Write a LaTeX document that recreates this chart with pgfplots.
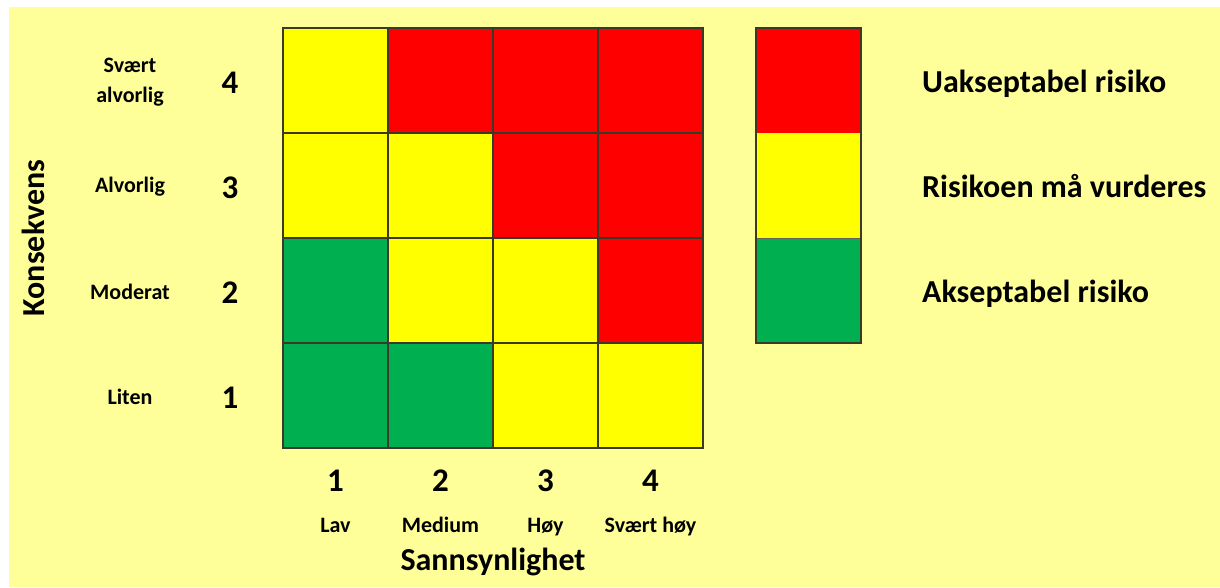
\documentclass[border=0pt]{standalone}
\usepackage{fontspec}
\setmainfont{Carlito}
\usepackage{pgfplots}
\pgfplotsset{compat=1.18}
\definecolor{bg}{HTML}{FFFF99}
\definecolor{rgreen}{HTML}{00B050}
\definecolor{ryellow}{HTML}{FFFF00}
\definecolor{rred}{HTML}{FF0000}
\definecolor{edge}{HTML}{3A3A2A}
\newcommand{\fs}[2]{\fontsize{#1}{#2}\selectfont\bfseries}
\begin{document}
\begin{tikzpicture}
\fill[white] (-283pt,-139pt) rectangle (937pt,448pt);
\fill[bg] (-274pt,-139pt) rectangle (937pt,441pt);
\begin{axis}[
  at={(0pt,0pt)}, anchor=south west,
  scale only axis, width=420pt, height=420pt,
  xmin=0.5, xmax=4.5, ymin=0.5, ymax=4.5,
  colormap={risk}{rgb255=(0,176,80) rgb255=(255,255,0) rgb255=(255,0,0)},
  colormap access=direct,
  point meta min=0, point meta max=2,
  axis on top,
  axis line style={draw=edge, line width=1.2pt},
  tick style={draw=none},
  xtick={1,2,3,4}, ytick={1,2,3,4},
  xticklabels={1,2,3,4}, yticklabels={1,2,3,4},
  minor xtick={1.5,2.5,3.5}, minor ytick={1.5,2.5,3.5},
  minor grid style={draw=edge, line width=1.2pt},
  xminorgrids, yminorgrids,
  xticklabel style={font=\fs{33}{33}, anchor=base, yshift=-43pt, inner sep=0pt},
  yticklabel style={font=\fs{33}{33}, anchor=base, xshift=-53pt, yshift=-12.5pt, inner sep=0pt},
  extra x ticks={1,2,3,4},
  extra x tick labels={Lav,Medium,Høy,Svært høy},
  extra x tick style={grid=none, xticklabel style={font=\fs{22}{22}, yshift=-41pt}},
  extra y ticks={1,2,3,4},
  extra y tick labels={Liten,Moderat,Alvorlig,Svært\\alvorlig},
  extra y tick style={grid=none, yticklabel style={font=\fs{22}{30}, align=center, anchor=center, xshift=-100pt, yshift=11pt}},
  xlabel={Sannsynlighet}, ylabel={Konsekvens},
  xlabel style={at={(rel axis cs:0.5,-0.2905)}, anchor=base, font=\fs{32}{32}, inner sep=0pt},
  ylabel style={at={(rel axis cs:-0.5667,0.5)}, anchor=base, font=\fs{32}{32}, inner sep=0pt},
]
\addplot[matrix plot*, mesh/cols=4, point meta=explicit] table[meta=c]{
x y c
1 1 0
2 1 0
3 1 1
4 1 1
1 2 0
2 2 1
3 2 1
4 2 2
1 3 1
2 3 1
3 3 2
4 3 2
1 4 1
2 4 2
3 4 2
4 4 2
};
\end{axis}
\begin{axis}[
  at={(473pt,105pt)}, anchor=south west,
  scale only axis, width=105pt, height=315pt,
  xmin=0.5, xmax=1.5, ymin=0, ymax=3,
  ybar stacked, bar width=105pt,
  axis on top,
  axis line style={draw=edge, line width=1.2pt},
  tick style={draw=none},
  xtick=\empty,
  ytick={0.5,1.5,2.5},
  yticklabels={Akseptabel risiko,Risikoen må vurderes,Uakseptabel risiko},
  yticklabel pos=right,
  yticklabel style={font=\fs{32}{32}, anchor=base west, xshift=61pt, yshift=-11.5pt, inner sep=0pt},
  minor ytick={1}, yminorgrids,
  minor grid style={draw=edge!80, line width=0.7pt},
]
\addplot[fill=rgreen, draw=none] coordinates {(1,1)};
\addplot[fill=ryellow, draw=none] coordinates {(1,1)};
\addplot[fill=rred, draw=none] coordinates {(1,1)};
\end{axis}
\end{tikzpicture}
\end{document}
